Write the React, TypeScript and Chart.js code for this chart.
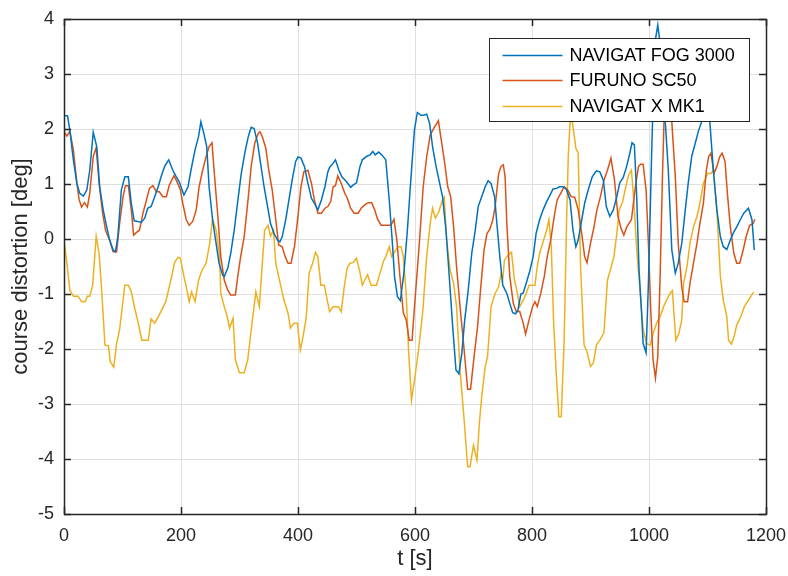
import React, { useEffect, useRef } from 'react';
import { Chart, registerables } from 'chart.js';

Chart.register(...registerables);

const FONT = "'Liberation Sans', Arial, Helvetica, sans-serif";
const AX = '#262626';

const seriesNames = ['NAVIGAT FOG 3000', 'FURUNO SC50', 'NAVIGAT X MK1'];
const seriesColors = ['#0072BD', '#D95319', '#EDB120'];

const xTitle = 't [s]';
const yTitle = 'course distortion [deg]';
const xMin = 0, xMax = 1200, xStep = 200;
const yMin = -5, yMax = 4, yStep = 1;

const fogT = [0, 6, 10, 16, 22, 27, 33, 39, 44, 50, 56, 61, 67, 73, 78, 84, 88, 92, 98, 104, 110, 115, 120, 126, 132, 138, 143, 149, 155, 161, 166, 172, 179, 186, 192, 197, 205, 212, 217, 224, 230, 234, 239, 244, 248, 254, 260, 265, 271, 274, 280, 285, 291, 298, 303, 309, 315, 320, 325, 331, 336, 342, 348, 353, 359, 365, 369, 373, 379, 384, 390, 396, 400, 405, 411, 417, 423, 428, 434, 440, 446, 451, 454, 460, 464, 470, 475, 483, 490, 494, 500, 506, 510, 517, 523, 528, 532, 538, 544, 550, 556, 561, 565, 570, 575, 581, 587, 592, 599, 604, 610, 615, 620, 625, 630, 636, 641, 647, 653, 659, 664, 670, 675, 680, 685, 691, 697, 703, 708, 714, 720, 725, 730, 736, 741, 745, 750, 757, 762, 767, 772, 776, 781, 785, 790, 796, 802, 807, 813, 819, 825, 830, 836, 842, 847, 853, 859, 865, 870, 875, 879, 885, 890, 896, 903, 910, 916, 922, 927, 933, 939, 945, 950, 956, 962, 967, 971, 975, 979, 983, 987, 990, 995, 999, 1005, 1010, 1015, 1019, 1024, 1028, 1033, 1039, 1045, 1050, 1056, 1062, 1067, 1073, 1079, 1085, 1090, 1097, 1104, 1110, 1116, 1122, 1127, 1133, 1139, 1145, 1150, 1156, 1162, 1170, 1176, 1180];
const fogV = [2.24, 2.24, 1.98, 1.44, 1.01, 0.83, 0.78, 0.89, 1.25, 1.94, 1.68, 0.95, 0.53, 0.22, -0.02, -0.2, -0.23, 0.04, 0.89, 1.13, 1.13, 0.65, 0.33, 0.32, 0.3, 0.38, 0.56, 0.59, 0.77, 0.95, 1.13, 1.32, 1.44, 1.25, 1.13, 1.04, 0.8, 0.95, 1.25, 1.62, 1.86, 2.13, 1.92, 1.68, 0.95, 0.35, -0.08, -0.44, -0.65, -0.68, -0.53, -0.26, 0.16, 0.77, 1.19, 1.56, 1.86, 2.03, 2.01, 1.74, 1.38, 0.95, 0.59, 0.28, 0.1, -0.02, -0.05, 0.04, 0.35, 0.68, 1.07, 1.41, 1.49, 1.47, 1.32, 1.01, 0.74, 0.65, 0.53, 0.71, 0.95, 1.22, 1.3, 1.38, 1.44, 1.25, 1.13, 1.04, 0.94, 0.98, 1.02, 1.32, 1.44, 1.5, 1.53, 1.59, 1.53, 1.58, 1.52, 1.44, 0.71, -0.02, -0.68, -1.05, -1.12, -0.62, 0.16, 0.95, 1.98, 2.3, 2.25, 2.25, 2.27, 2.1, 1.68, 1.32, 1.07, 0.77, 0.16, -0.75, -1.53, -2.38, -2.45, -2.08, -1.47, -0.93, -0.26, 0.16, 0.59, 0.77, 0.95, 1.06, 1.01, 0.77, 0.16, -0.32, -0.84, -0.99, -1.17, -1.34, -1.36, -1.29, -1.0, -0.98, -0.81, -0.59, -0.32, 0.1, 0.35, 0.53, 0.68, 0.78, 0.91, 0.92, 0.95, 0.95, 0.9, 0.71, 0.16, -0.14, -0.02, 0.35, 0.65, 0.89, 1.13, 1.24, 1.22, 1.07, 0.59, 0.41, 0.53, 0.77, 1.02, 1.12, 1.33, 1.55, 1.75, 1.71, 0.77, -0.56, -1.29, -1.9, -2.07, -0.81, 1.74, 3.56, 3.89, 3.56, 2.6, 2.1, 1.25, -0.2, -0.62, -0.44, -0.08, 0.53, 1.01, 1.5, 1.74, 1.98, 2.13, 2.25, 2.13, 1.25, 0.53, 0.04, -0.14, -0.19, -0.02, 0.13, 0.22, 0.35, 0.47, 0.56, 0.35, -0.2];

const furT = [0, 5, 10, 16, 22, 26, 30, 35, 40, 44, 50, 55, 60, 66, 71, 78, 84, 90, 95, 101, 105, 110, 115, 119, 124, 129, 135, 141, 146, 152, 158, 163, 169, 175, 180, 188, 194, 199, 203, 209, 214, 220, 226, 231, 237, 243, 248, 253, 257, 263, 268, 274, 280, 285, 293, 297, 302, 308, 314, 320, 326, 332, 335, 339, 345, 350, 356, 362, 367, 373, 378, 383, 388, 394, 400, 405, 410, 417, 423, 428, 434, 440, 446, 451, 456, 460, 464, 468, 474, 480, 484, 490, 496, 503, 508, 514, 520, 526, 531, 536, 542, 548, 559, 564, 569, 574, 580, 585, 590, 595, 600, 607, 614, 620, 626, 632, 640, 644, 650, 656, 661, 666, 671, 677, 683, 690, 695, 701, 707, 712, 718, 723, 728, 733, 737, 743, 747, 751, 754, 757, 762, 768, 773, 779, 785, 789, 795, 801, 805, 809, 815, 821, 826, 832, 838, 843, 849, 855, 861, 867, 873, 879, 885, 890, 894, 900, 906, 911, 917, 923, 929, 935, 941, 947, 952, 957, 962, 970, 976, 982, 986, 990, 995, 999, 1003, 1007, 1011, 1015, 1019, 1023, 1027, 1032, 1036, 1039, 1045, 1050, 1056, 1060, 1066, 1070, 1076, 1082, 1087, 1093, 1098, 1102, 1106, 1111, 1116, 1121, 1125, 1130, 1134, 1139, 1145, 1150, 1155, 1161, 1166, 1172, 1178, 1181];
const furV = [1.95, 1.87, 1.96, 1.62, 1.01, 0.71, 0.58, 0.66, 0.58, 0.83, 1.5, 1.66, 1.01, 0.47, 0.16, -0.02, -0.23, -0.23, 0.28, 0.77, 0.97, 0.97, 0.53, 0.07, 0.12, 0.16, 0.47, 0.71, 0.92, 0.97, 0.86, 0.86, 0.77, 0.77, 0.98, 1.15, 1.02, 0.89, 0.65, 0.35, 0.25, 0.32, 0.53, 0.95, 1.25, 1.5, 1.68, 1.75, 1.19, 0.41, -0.32, -0.75, -0.93, -1.02, -1.02, -0.68, -0.32, 0.04, 0.65, 1.32, 1.74, 1.92, 1.95, 1.86, 1.65, 1.25, 0.89, 0.35, -0.11, -0.14, -0.32, -0.44, -0.44, -0.14, 0.42, 0.95, 1.22, 1.25, 1.01, 0.71, 0.47, 0.47, 0.56, 0.59, 0.68, 0.95, 0.97, 1.15, 1.01, 0.83, 0.75, 0.56, 0.47, 0.47, 0.56, 0.62, 0.66, 0.66, 0.53, 0.36, 0.25, 0.25, 0.25, 0.36, -0.02, -0.65, -1.34, -1.47, -1.84, -1.84, -1.11, -0.14, 0.95, 1.5, 1.89, 2.01, 2.15, 1.86, 1.44, 0.95, 0.77, 0.22, -0.5, -1.23, -1.9, -2.73, -2.73, -2.14, -1.59, -0.93, -0.2, 0.1, 0.18, 0.35, 0.59, 1.19, 1.32, 1.35, 1.13, 0.28, -0.68, -1.17, -1.32, -1.32, -1.53, -1.73, -1.47, -1.23, -1.14, -1.23, -0.99, -0.68, -0.32, -0.02, 0.41, 0.71, 0.83, 0.95, 0.89, 0.77, 0.76, 0.53, 0.1, -0.32, -0.43, -0.08, 0.22, 0.53, 0.77, 1.07, 1.25, 1.47, 1.07, 0.41, 0.2, 0.07, 0.22, 0.35, 0.89, 1.32, 1.36, 1.36, 0.89, -0.08, -1.29, -2.2, -2.53, -2.14, -0.68, 1.13, 2.65, 2.95, 2.6, 2.13, 1.13, -0.08, -0.87, -1.14, -1.14, -0.81, -0.44, -0.08, 0.28, 0.65, 1.25, 1.5, 1.56, 1.19, 1.32, 1.5, 1.56, 1.41, 0.83, 0.22, -0.26, -0.44, -0.44, -0.2, 0.04, 0.25, 0.28, 0.36];

const mk1T = [0, 5, 10, 16, 24, 30, 36, 40, 44, 49, 55, 60, 64, 70, 76, 79, 85, 90, 95, 104, 110, 115, 121, 127, 133, 144, 149, 155, 163, 174, 183, 189, 195, 199, 205, 209, 214, 218, 224, 230, 235, 243, 249, 254, 260, 266, 268, 274, 279, 283, 289, 293, 300, 308, 314, 320, 328, 334, 339, 343, 349, 353, 358, 362, 369, 376, 383, 387, 393, 399, 404, 409, 414, 419, 425, 430, 434, 439, 445, 450, 454, 460, 469, 474, 479, 484, 489, 494, 500, 505, 510, 514, 519, 525, 534, 540, 546, 550, 556, 560, 566, 571, 576, 580, 585, 589, 594, 600, 606, 613, 620, 626, 630, 635, 641, 646, 650, 654, 660, 666, 671, 677, 684, 690, 694, 700, 706, 710, 714, 720, 724, 730, 737, 743, 747, 750, 753, 759, 765, 770, 774, 779, 785, 790, 795, 805, 809, 813, 819, 825, 829, 833, 837, 842, 846, 850, 855, 859, 862, 865, 869, 875, 879, 883, 889, 894, 900, 905, 910, 916, 923, 929, 934, 940, 945, 949, 955, 959, 965, 970, 974, 979, 985, 990, 996, 1002, 1007, 1013, 1019, 1025, 1030, 1036, 1040, 1043, 1046, 1051, 1056, 1059, 1065, 1070, 1076, 1082, 1087, 1093, 1100, 1106, 1110, 1116, 1122, 1127, 1133, 1136, 1141, 1146, 1150, 1157, 1163, 1170, 1179];
const mk1V = [-0.03, -0.44, -0.93, -1.04, -1.04, -1.14, -1.14, -1.04, -1.04, -0.84, 0.05, -0.26, -0.87, -1.93, -1.94, -2.23, -2.33, -1.9, -1.65, -0.84, -0.84, -0.96, -1.26, -1.53, -1.84, -1.84, -1.45, -1.53, -1.38, -1.14, -0.73, -0.43, -0.33, -0.35, -0.68, -0.87, -1.14, -0.96, -1.14, -0.75, -0.59, -0.44, -0.08, 0.36, 0.16, -0.32, -0.99, -1.23, -1.41, -1.62, -1.44, -2.2, -2.43, -2.43, -2.2, -1.65, -0.96, -1.23, -0.44, 0.16, 0.25, 0.05, 0.16, -0.44, -0.78, -1.11, -1.35, -1.62, -1.53, -1.53, -2.02, -1.75, -1.44, -0.62, -0.44, -0.24, -0.32, -0.84, -0.84, -1.11, -1.32, -1.23, -1.23, -1.32, -0.87, -0.53, -0.44, -0.43, -0.35, -0.56, -0.84, -0.75, -0.65, -0.84, -0.84, -0.63, -0.41, -0.32, -0.14, -0.32, -0.22, -0.14, -0.14, -0.32, -1.0, -2.02, -2.93, -2.5, -2.02, -1.35, -0.32, 0.28, 0.56, 0.38, 0.5, 0.68, 0.76, -0.02, -0.56, -0.81, -1.23, -2.38, -3.29, -4.14, -4.14, -3.75, -4.02, -3.35, -2.87, -2.32, -2.14, -1.23, -0.99, -0.87, -0.64, -0.73, -0.38, -0.29, -0.24, -0.75, -0.93, -1.23, -1.11, -0.99, -0.84, -0.84, -0.5, -0.26, -0.05, 0.16, 0.35, -0.14, -1.53, -2.56, -3.23, -3.23, -1.84, 0.28, 1.5, 2.13, 2.13, 1.65, 1.56, -0.5, -1.93, -2.05, -2.32, -2.25, -1.93, -1.84, -1.7, -0.75, -0.56, -0.32, 0.1, 0.53, 0.68, 0.89, 1.16, 1.25, 0.71, -0.2, -0.99, -1.65, -1.9, -1.93, -1.72, -1.53, -1.41, -1.23, -1.11, -0.99, -0.94, -1.41, -1.84, -1.72, -1.47, -0.81, -0.5, -0.08, 0.22, 0.41, 0.65, 1.01, 1.19, 1.19, 1.25, 0.53, -0.68, -1.11, -1.41, -1.84, -1.91, -1.75, -1.56, -1.41, -1.23, -1.11, -0.96];

const toPoints = (ts: number[], vs: number[]) => ts.map((t, i) => ({ x: t, y: vs[i] }));

const framePlugin = {
  id: 'matlabFrame',
  afterDatasetsDraw(chart: any) {
    const { ctx, chartArea: a, scales } = chart;
    ctx.save();
    ctx.strokeStyle = AX;
    ctx.lineWidth = 1.5;
    const tl = 7;
    ctx.beginPath();
    scales.x.ticks.forEach((t: any) => {
      const px = Math.round(scales.x.getPixelForValue(t.value)) + 0.5;
      ctx.moveTo(px, a.bottom); ctx.lineTo(px, a.bottom - tl);
      ctx.moveTo(px, a.top); ctx.lineTo(px, a.top + tl);
    });
    scales.y.ticks.forEach((t: any) => {
      const py = Math.round(scales.y.getPixelForValue(t.value)) + 0.5;
      ctx.moveTo(a.left, py); ctx.lineTo(a.left + tl, py);
      ctx.moveTo(a.right, py); ctx.lineTo(a.right - tl, py);
    });
    ctx.stroke();
    ctx.strokeRect(Math.round(a.left) + 0.5, Math.round(a.top) + 0.5, Math.round(a.width), Math.round(a.height));

    // legend box
    const bw = 260, bh = 83;
    const bx = Math.round(a.right - 17 - bw) + 0.5;
    const by = Math.round(a.top + 19) + 0.5;
    ctx.fillStyle = '#ffffff';
    ctx.fillRect(bx, by, bw, bh);
    ctx.lineWidth = 1;
    ctx.strokeStyle = AX;
    ctx.strokeRect(bx, by, bw, bh);
    const rows = [17, 42, 68];
    ctx.font = `18px ${FONT}`;
    ctx.textBaseline = 'middle';
    ctx.textAlign = 'left';
    chart.data.datasets.forEach((ds: any, i: number) => {
      const y = by + rows[i];
      ctx.strokeStyle = ds.borderColor;
      ctx.lineWidth = 1.5;
      ctx.beginPath();
      ctx.moveTo(bx + 13, y);
      ctx.lineTo(bx + 73, y);
      ctx.stroke();
      ctx.fillStyle = '#000000';
      ctx.fillText(ds.label, bx + 80, y + 1);
    });
    ctx.restore();
  },
};

export default function App() {
  const ref = useRef<HTMLCanvasElement | null>(null);
  useEffect(() => {
    if (!ref.current) return;
    const seriesT = [fogT, furT, mk1T];
    const seriesV = [fogV, furV, mk1V];
    const chart = new Chart(ref.current, {
      type: 'line',
      data: {
        datasets: seriesNames.map((name, i) => ({
          label: name,
          data: toPoints(seriesT[i], seriesV[i]),
          borderColor: seriesColors[i],
          backgroundColor: seriesColors[i],
          borderWidth: 1.5,
          pointRadius: 0,
          tension: 0,
          fill: false,
        })),
      },
      options: {
        responsive: false,
        animation: false,
        devicePixelRatio: 1,
        layout: { padding: { left: 0, top: 19, right: 22, bottom: 0 } },
        plugins: { legend: { display: false }, tooltip: { enabled: false } },
        scales: {
          x: {
            type: 'linear',
            min: xMin,
            max: xMax,
            grid: { color: '#dfdfdf', lineWidth: 1, drawTicks: false },
            border: { display: false },
            ticks: { stepSize: xStep, autoSkip: false, maxRotation: 0, padding: 11, color: AX, font: { family: FONT, size: 18 }, callback: (v: any) => String(v) },
            title: { display: true, text: xTitle, color: AX, font: { family: FONT, size: 22 }, padding: { top: 0, bottom: 4 } },
            afterFit: (s: any) => { s.height = 62; s.paddingLeft = 0; s.paddingRight = 0; },
          },
          y: {
            type: 'linear',
            min: yMin,
            max: yMax,
            grid: { color: '#dfdfdf', lineWidth: 1, drawTicks: false },
            border: { display: false },
            ticks: { stepSize: yStep, autoSkip: false, padding: 10, color: AX, font: { family: FONT, size: 18 }, callback: (v: any) => String(v) },
            title: { display: true, text: yTitle, color: AX, font: { family: FONT, size: 22 }, padding: { top: 8, bottom: 0 } },
            afterFit: (s: any) => { s.width = 64; s.paddingTop = 0; s.paddingBottom = 0; },
          },
        },
      } as any,
      plugins: [framePlugin],
    });
    return () => chart.destroy();
  }, []);
  return (
    <div style={{ position: 'fixed', left: 0, top: 0, width: 788, height: 576, background: '#fff' }}>
      <canvas ref={ref} width={788} height={576} style={{ display: 'block' }} />
    </div>
  );
}
